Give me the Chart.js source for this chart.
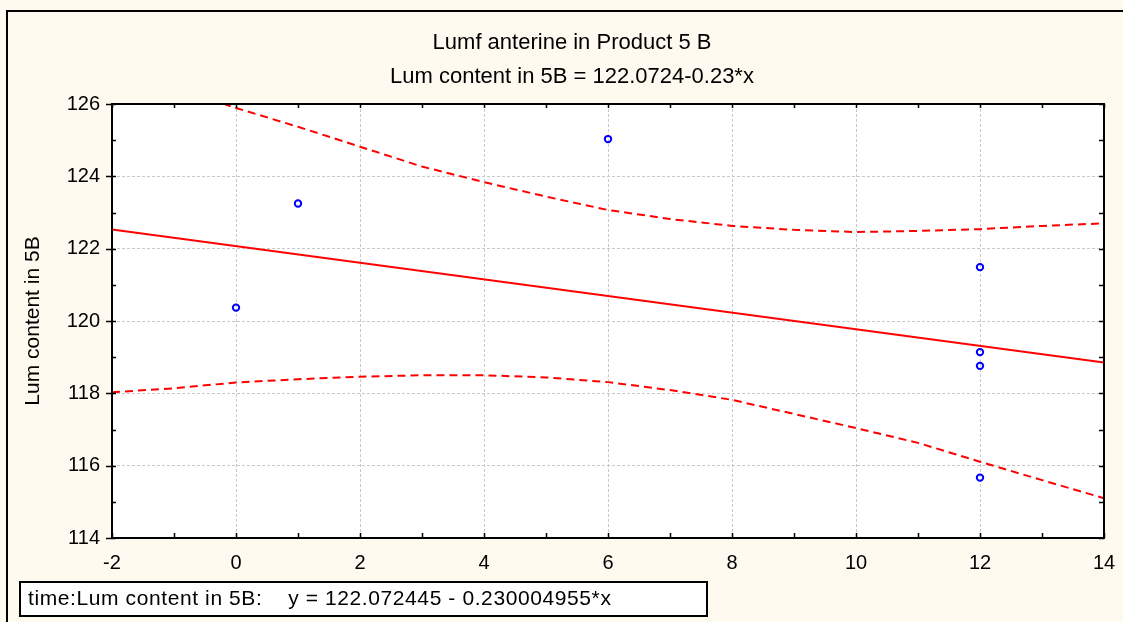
<!DOCTYPE html>
<html>
<head>
<meta charset="utf-8">
<script src="https://cdn.jsdelivr.net/npm/chart.js@4.4.1/dist/chart.umd.min.js"></script>
<style>
  html, body { margin: 0; padding: 0; background: #fefaef; }
  canvas { display: block; }
</style>
</head>
<body>
<canvas id="chart" width="1123" height="622"></canvas>
<script>
// observed points (time vs lum content)
const pointX = [0, 1, 6, 12, 12, 12, 12];
const pointY = [120.37, 123.25, 125.03, 121.49, 119.14, 118.76, 115.67];

// fitted line y = 122.072445 - 0.230004955*x, read at the ends of the axis
const fitX = [-2, 14];
const fitY = [122.53, 118.85];

// confidence band
const bandX = [-2, -1, 0, 1, 2, 3, 4, 5, 6, 7, 8, 9, 10, 11, 12, 13, 14];
const bandUpper = [127.03, 126.46, 125.89, 125.37, 124.82, 124.27, 123.84, 123.44, 123.07,
                   122.82, 122.63, 122.52, 122.46, 122.49, 122.54, 122.63, 122.70];
const bandLower = [118.03, 118.14, 118.30, 118.39, 118.46, 118.50, 118.50, 118.44, 118.31,
                   118.09, 117.82, 117.43, 117.04, 116.63, 116.11, 115.60, 115.10];

const titleLines = ['Lumf anterine in Product 5 B', 'Lum content in 5B = 122.0724-0.23*x'];
const yTitle = 'Lum content in 5B';
const legendText = 'time:Lum content in 5B:    y = 122.072445 - 0.230004955*x';

const FONT = '"Liberation Sans", Arial, sans-serif';
const xy = (xs, ys) => xs.map((x, i) => ({ x, y: ys[i] }));

const frame = {
  id: 'frame',
  beforeDraw(chart) {
    const { ctx, chartArea: a } = chart;
    ctx.save();
    ctx.fillStyle = '#fefaef';
    ctx.fillRect(0, 0, chart.width, chart.height);
    ctx.fillStyle = '#ffffff';
    ctx.fillRect(a.left, a.top, a.right - a.left, a.bottom - a.top);
    ctx.restore();
  },
  afterDraw(chart) {
    const { ctx, chartArea: a, scales: { x, y } } = chart;
    ctx.save();
    ctx.strokeStyle = '#000';
    ctx.lineWidth = 2;
    ctx.strokeRect(a.left, a.top, a.right - a.left, a.bottom - a.top);
    ctx.strokeRect(7, 11, 1300, 800);

    // minor ticks on all four sides, major ticks poke out on the left
    ctx.lineWidth = 1.5;
    ctx.beginPath();
    for (let v = x.min; v <= x.max; v++) {
      const px = Math.round(x.getPixelForValue(v)) + 0.5;
      ctx.moveTo(px, a.top); ctx.lineTo(px, a.top + 4);
      ctx.moveTo(px, a.bottom); ctx.lineTo(px, a.bottom - 5);
    }
    for (let v = y.min; v <= y.max; v++) {
      const py = Math.round(y.getPixelForValue(v)) + 0.5;
      ctx.moveTo(a.right, py); ctx.lineTo(a.right - 5, py);
      ctx.moveTo(a.left + 4, py); ctx.lineTo(a.left - (v % 2 === 0 ? 6 : 0), py);
    }
    ctx.stroke();

    ctx.fillStyle = '#000';
    ctx.font = '22px ' + FONT;
    ctx.textAlign = 'center';
    ctx.textBaseline = 'alphabetic';
    ctx.fillText(titleLines[0], 572, 49);
    ctx.fillText(titleLines[1], 572, 83);

    ctx.fillStyle = '#fff';
    ctx.fillRect(20, 582, 687, 34);
    ctx.lineWidth = 2;
    ctx.strokeRect(20, 582, 687, 34);
    ctx.fillStyle = '#000';
    ctx.font = '21px ' + FONT;
    ctx.letterSpacing = '0.6px';
    ctx.textAlign = 'left';
    ctx.fillText(legendText, 28, 605);
    ctx.letterSpacing = '0px';
    ctx.restore();
  }
};

new Chart(document.getElementById('chart'), {
  type: 'scatter',
  data: {
    datasets: [
      { data: xy(pointX, pointY), pointRadius: 3.2, pointBorderWidth: 2,
        pointBorderColor: '#0000ff', pointBackgroundColor: 'rgba(0,0,0,0)', showLine: false },
      { data: xy(fitX, fitY), showLine: true, borderColor: '#ff0000', borderWidth: 2, pointRadius: 0 },
      { data: xy(bandX, bandUpper), showLine: true, borderColor: '#ff0000', borderWidth: 2,
        borderDash: [8, 5], pointRadius: 0 },
      { data: xy(bandX, bandLower), showLine: true, borderColor: '#ff0000', borderWidth: 2,
        borderDash: [8, 5], pointRadius: 0 }
    ]
  },
  options: {
    responsive: false,
    animation: false,
    layout: { padding: { top: 104, right: 19, left: 0, bottom: 0 } },
    plugins: { legend: { display: false }, title: { display: false }, tooltip: { enabled: false } },
    scales: {
      x: {
        type: 'linear', min: -2, max: 14,
        afterFit: s => { s.height = 84; s.paddingLeft = 0; s.paddingRight = 0; },
        ticks: { stepSize: 2, autoSkip: false, maxRotation: 0, padding: 13, color: '#000',
                 font: { family: FONT, size: 20 } },
        grid: { color: '#c8c8c8', lineWidth: 1, drawTicks: false },
        border: { display: false, dash: [3, 2] }
      },
      y: {
        min: 114, max: 126,
        afterFit: s => { s.width = 112; s.paddingTop = 0; s.paddingBottom = 0; },
        ticks: { stepSize: 2, padding: 12, color: '#000', font: { family: FONT, size: 20 } },
        grid: { color: '#c8c8c8', lineWidth: 1, drawTicks: false },
        border: { display: false, dash: [3, 2] },
        title: { display: true, text: yTitle, color: '#000', padding: { top: 21, bottom: 0 },
                 font: { family: FONT, size: 21 } }
      }
    }
  },
  plugins: [frame]
});
</script>
</body>
</html>
